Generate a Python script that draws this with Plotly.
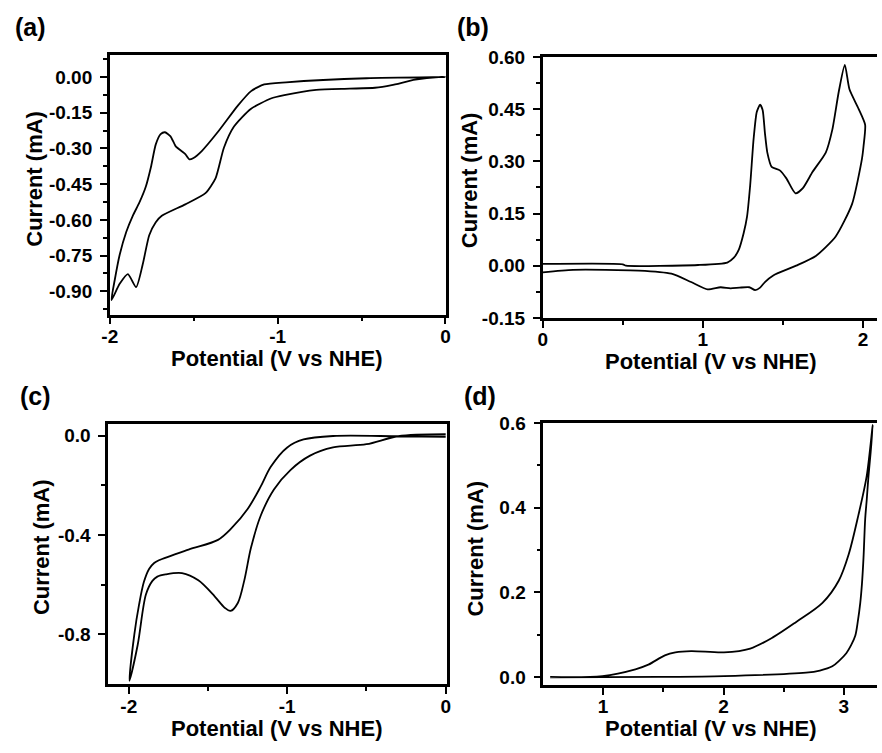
import plotly.graph_objects as go

W, H = 882, 753

# ---- (a) cyclic voltammogram, cathodic region ----
a_fwd_x = [0.0, -0.04, -0.18, -0.32, -0.42, -0.57, -0.77, -0.96, -1.04, -1.16, -1.26, -1.32,
           -1.37, -1.43, -1.55, -1.69, -1.726, -1.765, -1.804, -1.843, -1.892, -1.941, -1.99]
a_fwd_y = [0.0, 0.0, -0.011, -0.034, -0.045, -0.049, -0.054, -0.076, -0.09, -0.134, -0.208, -0.297,
           -0.426, -0.488, -0.535, -0.583, -0.61, -0.665, -0.788, -0.883, -0.828, -0.869, -0.937]
a_rev_x = [-1.971, -1.941, -1.902, -1.863, -1.824, -1.785, -1.755, -1.726, -1.697, -1.671, -1.638,
           -1.608, -1.569, -1.55, -1.526, -1.501, -1.452, -1.354, -1.237, -1.158, -1.08, -0.95,
           -0.47, 0.0]
a_rev_y = [-0.855, -0.747, -0.651, -0.583, -0.528, -0.46, -0.379, -0.283, -0.24, -0.232, -0.249,
           -0.29, -0.313, -0.324, -0.346, -0.34, -0.311, -0.229, -0.12, -0.059, -0.031, -0.022,
           -0.005, 0.0]

# ---- (b) anodic region ----
b_fwd_x = [0.0, 0.5, 0.52, 0.97, 1.153, 1.194, 1.225, 1.255, 1.276, 1.296, 1.317, 1.337, 1.358,
           1.374, 1.388, 1.403, 1.43, 1.481, 1.522, 1.579, 1.625, 1.686, 1.768, 1.809, 1.85,
           1.887, 1.916, 1.973, 2.014]
b_fwd_y = [0.005, 0.004, 0.0, 0.002, 0.009, 0.023, 0.046, 0.093, 0.14, 0.232, 0.363, 0.442, 0.463,
           0.447, 0.381, 0.325, 0.284, 0.274, 0.251, 0.208, 0.223, 0.27, 0.325, 0.391, 0.502,
           0.577, 0.507, 0.451, 0.405]
b_rev_x = [2.004, 1.994, 1.932, 1.83, 1.706, 1.583, 1.44, 1.388, 1.358, 1.327, 1.29, 1.23, 1.173,
           1.111, 1.03, 0.927, 0.804, 0.6, 0.19, 0.0]
b_rev_y = [0.344, 0.307, 0.177, 0.084, 0.028, 0.0, -0.028, -0.047, -0.063, -0.07, -0.062, -0.063,
           -0.065, -0.062, -0.068, -0.047, -0.023, -0.014, -0.012, -0.019]

# ---- (c) cathodic region ----
c_fwd_x = [0.0, -0.3, -0.5, -0.711, -0.856, -0.98, -1.084, -1.167, -1.229, -1.271, -1.312, -1.358,
           -1.395, -1.457, -1.561, -1.664, -1.768, -1.82, -1.851, -1.892, -1.944, -1.996]
c_fwd_y = [0.005, -0.003, -0.035, -0.048, -0.081, -0.139, -0.217, -0.322, -0.452, -0.583, -0.674,
           -0.706, -0.693, -0.648, -0.583, -0.554, -0.559, -0.568, -0.585, -0.64, -0.843, -0.987]
c_rev_x = [-1.965, -1.935, -1.905, -1.872, -1.84, -1.81, -1.623, -1.437, -1.353, -1.25, -1.167,
           -1.104, -1.0, -0.897, -0.711, -0.3, 0.0]
c_rev_y = [-0.8, -0.68, -0.59, -0.537, -0.513, -0.502, -0.459, -0.42, -0.374, -0.296, -0.205,
           -0.126, -0.048, -0.016, -0.002, -0.003, -0.005]

# ---- (d) anodic region ----
d_fwd_x = [0.56, 0.994, 1.268, 1.376, 1.513, 1.6, 1.731, 2.004, 2.222, 2.413, 2.604, 2.822,
           2.958, 3.04, 3.12, 3.189, 3.24]
d_fwd_y = [0.0, 0.002, 0.018, 0.029, 0.051, 0.058, 0.061, 0.058, 0.067, 0.094, 0.13, 0.175,
           0.228, 0.29, 0.382, 0.474, 0.596]
d_rev_x = [3.222, 3.204, 3.19, 3.177, 3.163, 3.15, 3.136, 3.115, 3.095, 3.06, 3.02, 2.96, 2.904,
           2.8, 2.686, 2.004, 1.458, 0.56]
d_rev_y = [0.53, 0.474, 0.42, 0.374, 0.282, 0.22, 0.175, 0.13, 0.098, 0.075, 0.056, 0.038, 0.025,
           0.015, 0.01, 0.002, 0.0, -0.001]

# tick values / labels
a_xticks, a_xlabels = [-2, -1, 0], ["-2", "-1", "0"]
a_yticks = [0.0, -0.15, -0.30, -0.45, -0.60, -0.75, -0.90]
a_ylabels = ["0.00", "-0.15", "-0.30", "-0.45", "-0.60", "-0.75", "-0.90"]
b_xticks, b_xlabels = [0, 1, 2], ["0", "1", "2"]
b_yticks = [-0.15, 0.0, 0.15, 0.30, 0.45, 0.60]
b_ylabels = ["-0.15", "0.00", "0.15", "0.30", "0.45", "0.60"]
c_xticks, c_xlabels = [-2, -1, 0], ["-2", "-1", "0"]
c_yticks, c_ylabels = [0.0, -0.4, -0.8], ["0.0", "-0.4", "-0.8"]
d_xticks, d_xlabels = [1, 2, 3], ["1", "2", "3"]
d_yticks, d_ylabels = [0.0, 0.2, 0.4, 0.6], ["0.0", "0.2", "0.4", "0.6"]

x_title = "Potential (V vs NHE)"
y_title = "Current (mA)"
panel_labels = ["(a)", "(b)", "(c)", "(d)"]

FONT = "Liberation Sans, Arial, sans-serif"


def px_x(p):
    return p / W


def px_y(p):
    return 1 - p / H


def axis(domain, rng, tickvals, ticktext, minor_vals, mirror, standoff):
    return dict(
        domain=domain, range=rng, tickmode="array", tickvals=tickvals, ticktext=ticktext,
        showline=True, linecolor="black", linewidth=2.5, mirror=mirror,
        ticks="outside", ticklen=7, tickwidth=2, tickcolor="black",
        ticklabelstandoff=standoff,
        minor=dict(tickmode="array", tickvals=minor_vals, ticks="outside", ticklen=4,
                   tickwidth=2, tickcolor="black"),
        showgrid=False, zeroline=False,
        tickfont=dict(family=FONT, size=19, color="black", weight="bold"),
    )


fig = go.Figure()
smooth = [0.6, 0.6, 0.9, 0.9]
for i, (fx, fy, rx, ry) in enumerate([
    (a_fwd_x, a_fwd_y, a_rev_x, a_rev_y),
    (b_fwd_x, b_fwd_y, b_rev_x, b_rev_y),
    (c_fwd_x, c_fwd_y, c_rev_x, c_rev_y),
    (d_fwd_x, d_fwd_y, d_rev_x, d_rev_y),
]):
    suffix = "" if i == 0 else str(i + 1)
    fig.add_trace(go.Scatter(x=fx + rx, y=fy + ry, mode="lines",
                             line=dict(color="black", width=1.8, shape="spline",
                                       smoothing=smooth[i]),
                             xaxis="x" + suffix, yaxis="y" + suffix, showlegend=False,
                             hoverinfo="skip"))

fig.update_layout(
    width=W, height=H, autosize=False,
    margin=dict(l=0, r=0, t=0, b=0),
    paper_bgcolor="white", plot_bgcolor="white",
    xaxis=axis([px_x(103.3), px_x(444.5)], [-2.0, 0.003], a_xticks, a_xlabels,
               [-1.5, -0.5], True, -4) | dict(anchor="y"),
    yaxis=axis([px_y(313.3), px_y(46.7)], [-0.998, 0.091], a_yticks, a_ylabels,
               [0.075, -0.075, -0.225, -0.375, -0.525, -0.675, -0.825, -0.975], True, 4)
    | dict(anchor="x"),
    xaxis2=axis([px_x(542.7), 1.0], [0.0, 2.088], b_xticks, b_xlabels,
                [0.5, 1.5], True, -4) | dict(anchor="y2"),
    yaxis2=axis([px_y(316.7), px_y(48.3)], [-0.15, 0.60], b_yticks, b_ylabels,
                [-0.075, 0.075, 0.225, 0.375, 0.525], False, 4) | dict(anchor="x2"),
    xaxis3=axis([px_x(101.7), px_x(446)], [-2.13, 0.011], c_xticks, c_xlabels,
                [-1.5, -0.5], True, -4) | dict(anchor="y3"),
    yaxis3=axis([px_y(693.3), px_y(425.7)], [-1.0, 0.047], c_yticks, c_ylabels,
                [-0.2, -0.6], True, 4) | dict(anchor="x3"),
    xaxis4=axis([px_x(543.3), 1.0], [0.503, 3.275], d_xticks, d_xlabels,
                [1.5, 2.5], True, -4) | dict(anchor="y4"),
    yaxis4=axis([px_y(694.3), px_y(425)], [-0.019, 0.6], d_yticks, d_ylabels,
                [0.1, 0.3, 0.5], False, 4) | dict(anchor="x4"),
)

title_font = dict(family=FONT, size=22, color="black", weight="bold")
label_font = dict(family=FONT, size=25, color="black", weight="bold")

# axis titles: (x centre, y centre) in pixels
x_title_pos = [(273, 358), (713, 362), (273, 739), (713, 739)]
y_title_pos = [(27, 174), (468, 175), (34, 552), (475, 554)]
label_pos = [(23, 17), (472, 17), (28, 397), (479, 397)]

ann = []
for (tx, ty) in x_title_pos:
    ann.append(dict(text=x_title, x=px_x(tx), y=px_y(ty), xref="paper", yref="paper",
                    showarrow=False, font=title_font, xanchor="center", yanchor="middle"))
for (tx, ty) in y_title_pos:
    ann.append(dict(text=y_title, x=px_x(tx), y=px_y(ty), xref="paper", yref="paper",
                    showarrow=False, font=title_font, textangle=-90,
                    xanchor="center", yanchor="middle"))
for lbl, (tx, ty) in zip(panel_labels, label_pos):
    ann.append(dict(text=lbl, x=px_x(tx), y=px_y(ty), xref="paper", yref="paper",
                    showarrow=False, font=label_font, xanchor="center", yanchor="middle"))
fig.update_layout(annotations=ann)

fig.write_html("out.html")
